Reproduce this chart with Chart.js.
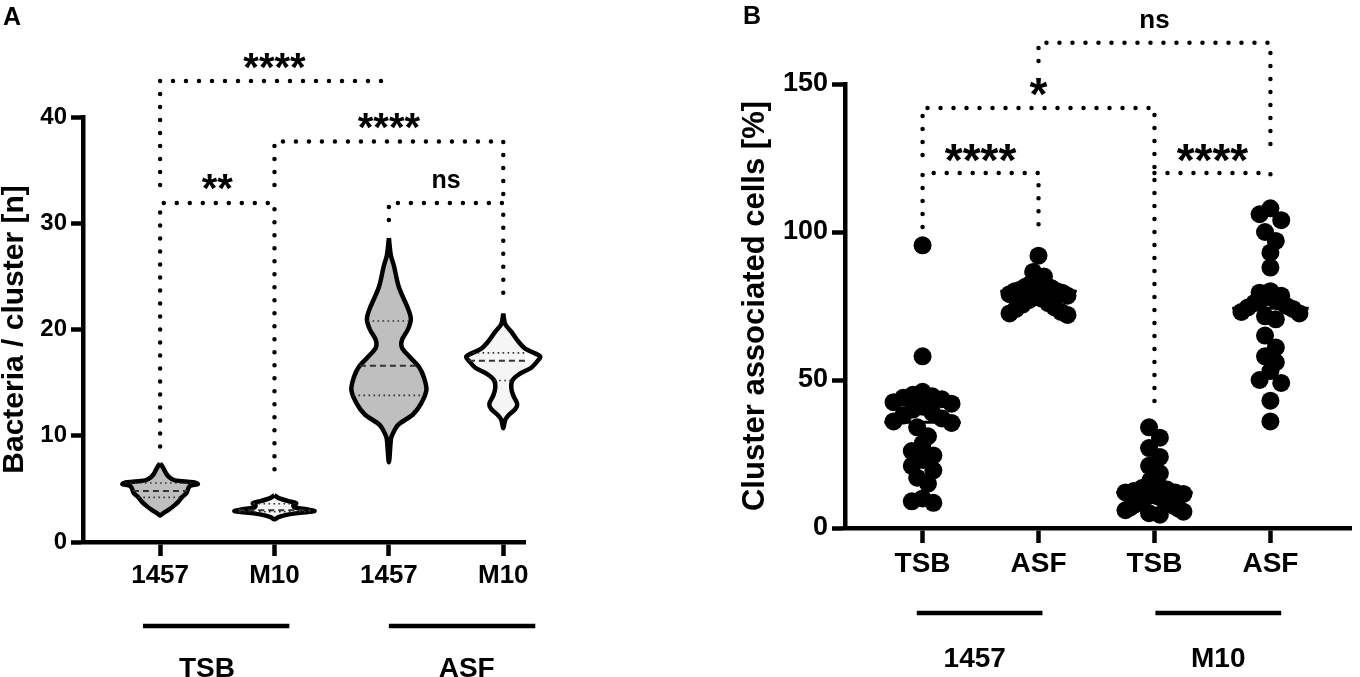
<!DOCTYPE html>
<html>
<head>
<meta charset="utf-8">
<script src="https://cdn.jsdelivr.net/npm/chart.js@4.4.1/dist/chart.umd.min.js"></script>
<style>
  html, body { margin: 0; padding: 0; background: #fff; }
  #wrap { position: relative; width: 1360px; height: 677px; }
  .panel { position: absolute; top: 0; width: 680px; height: 677px; }
</style>
</head>
<body>
<div id="wrap">
  <div class="panel" style="left:0"><canvas id="panelA"></canvas></div>
  <div class="panel" style="left:680px"><canvas id="panelB"></canvas></div>
</div>
<script>
const FONT = '"Liberation Sans", Arial, sans-serif'

// ---------- panel A : bacteria per cluster (violins) ----------
const strainsA = ['1457', 'M10', '1457', 'M10']
const mediaA = ['TSB', 'ASF']
const yTicksA = [0, 10, 20, 30, 40]

// violin outlines: levels (bacteria / cluster) and half width of the density
const v1Levels = [7.4, 7.0, 6.5, 6.1, 5.8, 5.62, 5.45, 5.28, 5.0, 4.6, 4.2, 3.8, 3.4, 3.0, 2.7, 2.5]
const v1Widths = [0, .026, .05, .08, .13, .29, .33, .26, .245, .23, .19, .16, .12, .07, .026, 0]
const v2Levels = [4.4, 4.1, 3.85, 3.65, 3.45, 3.25, 3.05, 2.9, 2.75, 2.55, 2.35, 2.15]
const v2Widths = [0, .044, .12, .19, .165, .175, .30, .35, .23, .105, .035, 0]
const v3Levels = [28.6, 27.0, 26.0, 24.0, 22.0, 21.0, 20.0, 19.0, 18.3, 17.5, 16.5, 15.5, 14.3, 13.0, 12.0, 11.0, 10.0, 9.6, 7.5]
const v3Widths = [0, .017, .044, .087, .166, .192, .166, .114, .114, .175, .262, .306, .328, .28, .21, .079, .026, .017, 0]
const v4Levels = [21.5, 20.5, 19.8, 19.0, 18.2, 17.6, 17.4, 17.0, 16.4, 15.8, 15.2, 14.5, 13.8, 13.0, 12.5, 12.0, 11.5, 10.7]
const v4Widths = [0, .017, .07, .122, .192, .306, .324, .297, .245, .14, .079, .07, .087, .122, .105, .052, .017, 0]
// quartiles [Q1, median, Q3]
const quartA = [[4.2, 4.8, 5.55], [2.85, 3.0, 3.6], [13.8, 16.6, 20.8], [15.2, 17.05, 17.8]]

const bracketsA = [
  {from: 0, to: 2, level: 43.4, leftEnd: 33.6, rightEnd: 43.0, label: '****', labelY: 45.3},
  {from: 1, to: 3, level: 37.7, leftEnd: 33.6, rightEnd: 31.9, label: '****', labelY: 39.6},
  {from: 0, to: 1, level: 31.9, leftEnd: 9.0, rightEnd: 6.6, label: '**', labelY: 33.9},
  {from: 2, to: 3, level: 31.9, leftEnd: 30.3, rightEnd: 23.4, label: 'ns', labelY: 34.0}
]
const groupSpanA = [{from: -0.15, to: 1.13, at: 0.41}, {from: 2.0, to: 3.28, at: 2.68}]

// ---------- panel B : cluster associated cells (dots) ----------
const mediaB = ['TSB', 'ASF', 'TSB', 'ASF']
const strainsB = ['1457', 'M10']
const yTicksB = [0, 50, 100, 150]

const tsb1457 = [95.5, 58, 46, 45, 44.5, 44, 43.5, 42.5, 42, 41, 40, 39, 38, 37, 36, 35.5, 34, 31, 28.5, 26, 24.5, 23, 21, 19.5, 17, 15, 10, 9, 8.5]
const asf1457 = [92, 86.5, 85, 84, 83, 82.5, 82, 81.5, 81, 80.5, 80, 80, 79.5, 79, 78.5, 78, 77.5, 77, 76, 75.5, 74.5, 74, 73, 72.5, 72]
const tsbM10 = [34, 30.5, 27, 24, 21, 18.5, 16, 14.5, 13.5, 13, 12.5, 12, 12, 11.5, 11, 11, 10.5, 10, 9.5, 9, 8.5, 8, 7.5, 7, 6.5, 6, 5.5, 5, 4.5]
const asfM10 = [108, 106, 104, 100, 97, 93, 88, 80, 79.5, 78.5, 78, 77.5, 77, 76.5, 76, 75, 74.5, 74, 73, 72.5, 71.5, 70.5, 65, 61, 58, 56, 53, 50, 49, 43, 36]
const mediansB = [35.7, 80, 12, 74.2]

const bracketsB = [
  {from: 1, to: 3, level: 163.9, leftEnd: 157.8, rightEnd: 128.4, label: 'ns', labelY: 171.3},
  {from: 0, to: 2, level: 141.9, leftEnd: 126, rightEnd: 40.5, label: '*', labelY: 149},
  {from: 0, to: 1, level: 119.9, leftEnd: 101.7, rightEnd: 98.3, label: '****', labelY: 126.7},
  {from: 2, to: 3, level: 119.9, leftEnd: 119.9, rightEnd: 117.6, label: '****', labelY: 126.7}
]
const groupSpanB = [{from: -0.05, to: 1.034, at: 0.45}, {from: 2.008, to: 3.093, at: 2.55}]

// ---------- helpers ----------
function violinOutline(center, levels, widths) {
  const right = levels.map((y, k) => ({x: center + widths[k], y: y}))
  const left = levels.slice(0, -1).map((y, k) => ({x: center - widths[k], y: y})).reverse()
  return right.concat(left)
}

function widthAt(levels, widths, v) {
  for (let k = 0; k < levels.length - 1; k++) {
    if (v <= levels[k] && v >= levels[k + 1]) {
      const t = (levels[k] - v) / (levels[k] - levels[k + 1])
      return widths[k] + t * (widths[k + 1] - widths[k])
    }
  }
  return 0
}

function bracketData(b) {
  return [{x: b.from, y: b.leftEnd}, {x: b.from, y: b.level}, {x: b.to, y: b.level}, {x: b.to, y: b.rightEnd}]
}

function bracketDataset(b) {
  return {
    data: bracketData(b), borderColor: '#000', borderWidth: 4.5, borderDash: [0, 13],
    borderCapStyle: 'round', pointRadius: 0, tension: 0, fill: false, clip: false, order: 0
  }
}

function centeredText(ctx, text, cx, cy, size) {
  ctx.font = 'bold ' + size + 'px ' + FONT
  ctx.textAlign = 'center'
  ctx.textBaseline = 'alphabetic'
  const m = ctx.measureText(text)
  ctx.fillText(text, cx, cy + (m.actualBoundingBoxAscent - m.actualBoundingBoxDescent) / 2)
}

function groupDecor(chart, spans, labels, lineOff, labelOff, size) {
  const {ctx, chartArea, scales: {x}} = chart
  ctx.save()
  ctx.strokeStyle = '#000'
  ctx.fillStyle = '#000'
  ctx.lineWidth = 4.5
  spans.forEach((s, i) => {
    const yl = chartArea.bottom + lineOff
    ctx.beginPath()
    ctx.moveTo(x.getPixelForValue(s.from), yl)
    ctx.lineTo(x.getPixelForValue(s.to), yl)
    ctx.stroke()
    centeredText(ctx, labels[i], x.getPixelForValue(s.at), chartArea.bottom + labelOff, size)
  })
  ctx.restore()
}

function bracketLabels(chart, brackets, starSize, nsSize) {
  const {ctx, scales: {x, y}} = chart
  ctx.save()
  ctx.fillStyle = '#000'
  brackets.forEach(b => {
    centeredText(ctx, b.label, x.getPixelForValue((b.from + b.to) / 2), y.getPixelForValue(b.labelY),
      b.label === 'ns' ? nsSize : starSize)
  })
  ctx.restore()
}

// GraphPad-like scatter: dots binned into rows, each row spread sideways within a fixed width
const swarmPlugin = {
  id: 'swarm',
  afterDatasetsUpdate(chart) {
    const xs = chart.scales.x
    chart.data.datasets.forEach((ds, di) => {
      if (!ds.swarm) return
      const pts = chart.getDatasetMeta(di).data
      const dia = ds.pointRadius * 2
      const maxHalf = Math.abs(xs.getPixelForValue(ds.swarm) - xs.getPixelForValue(0))
      const bins = {}
      pts.forEach(p => {
        const b = Math.round(p.y / dia)
        if (!bins[b]) bins[b] = []
        bins[b].push(p)
      })
      Object.values(bins).forEach(list => {
        const n = list.length
        if (n < 2) return
        const step = Math.min(dia * 0.6, 2 * maxHalf / (n - 1))
        const slots = list.map((_, k) => (k - (n - 1) / 2) * step)
          .sort((a, b) => Math.abs(a) - Math.abs(b) || a - b)
        list.forEach((p, k) => { p.x += slots[k] })
      })
    })
  }
}

Chart.defaults.font.family = FONT
Chart.defaults.color = '#000'

function axisCommon(tickLen) {
  return {
    border: {display: true, width: 4.5, color: '#000'},
    grid: {display: true, drawOnChartArea: false, drawTicks: true, tickLength: tickLen, tickWidth: 4.5, tickColor: '#000'}
  }
}

// ---------- build panel A ----------
const violinsA = [[v1Levels, v1Widths], [v2Levels, v2Widths], [v3Levels, v3Widths], [v4Levels, v4Widths]]
const fillsA = ['#bfbfbf', '#f4f5f4', '#bfbfbf', '#f4f5f4']
const datasetsA = []

violinsA.forEach((v, i) => {
  datasetsA.push({
    data: violinOutline(i, v[0], v[1]), borderColor: '#000', borderWidth: 4.5, backgroundColor: fillsA[i],
    fill: 'shape', tension: 0.3, pointRadius: 0, borderJoinStyle: 'round', clip: false, order: 3
  })
  quartA[i].forEach((q, k) => {
    const hw = widthAt(v[0], v[1], q)
    datasetsA.push({
      data: [{x: i - hw, y: q}, {x: i + hw, y: q}], borderColor: '#333',
      borderWidth: k === 1 ? 2 : 1.6, borderDash: k === 1 ? [6, 4] : [1.6, 3.4],
      pointRadius: 0, fill: false, order: 2
    })
  })
})
bracketsA.forEach(b => datasetsA.push(bracketDataset(b)))

new Chart(document.getElementById('panelA'), {
  type: 'line',
  data: {datasets: datasetsA},
  options: {
    responsive: true, maintainAspectRatio: false, animation: false, events: [],
    layout: {padding: {left: 0, right: 155, top: 117, bottom: 0}},
    plugins: {legend: {display: false}, tooltip: {enabled: false}},
    scales: {
      x: Object.assign(axisCommon(14), {
        type: 'linear', min: -0.674, max: 3.19,
        afterBuildTicks: s => { s.ticks = strainsA.map((_, i) => ({value: i})) },
        afterFit: s => { s.height = 135 },
        ticks: {callback: (v, i) => strainsA[i], font: {size: 26, weight: 'bold'}, padding: 4, maxRotation: 0, autoSkip: false}
      }),
      y: Object.assign(axisCommon(12), {
        min: 0, max: 40,
        afterBuildTicks: s => { s.ticks = yTicksA.map(v => ({value: v})) },
        afterFit: s => { s.width = 83 },
        ticks: {font: {size: 24, weight: 'bold'}, padding: 4},
        title: {display: true, text: 'Bacteria / cluster [n]', font: {size: 30, weight: 'bold', lineHeight: 1}, padding: {top: 0, bottom: 0}}
      })
    }
  },
  plugins: [{
    id: 'panelAText',
    afterDraw(chart) {
      const ctx = chart.ctx
      ctx.save()
      ctx.fillStyle = '#000'
      ctx.font = 'bold 25px ' + FONT
      ctx.textAlign = 'left'
      ctx.textBaseline = 'alphabetic'
      ctx.fillText('A', 3, 25)
      ctx.restore()
      bracketLabels(chart, bracketsA, 40, 25)
      groupDecor(chart, groupSpanA, mediaA, 84, 125, 28)
    }
  }]
})

// ---------- build panel B ----------
const dotsB = [tsb1457, asf1457, tsbM10, asfM10]
const datasetsB = []
dotsB.forEach((vals, i) => {
  datasetsB.push({
    data: vals.map(v => ({x: i, y: v})), showLine: false, swarm: 0.25,
    pointRadius: 9, pointBorderWidth: 0, pointBackgroundColor: '#000', borderColor: '#000', clip: false, order: 2
  })
  datasetsB.push({
    data: [{x: i - 0.33, y: mediansB[i]}, {x: i + 0.33, y: mediansB[i]}],
    borderColor: '#000', borderWidth: 3, pointRadius: 0, fill: false, order: 1
  })
})
bracketsB.forEach(b => datasetsB.push(bracketDataset(b)))

new Chart(document.getElementById('panelB'), {
  type: 'line',
  data: {datasets: datasetsB},
  options: {
    responsive: true, maintainAspectRatio: false, animation: false, events: [],
    layout: {padding: {left: 0, right: 0, top: 84, bottom: 0}},
    plugins: {legend: {display: false}, tooltip: {enabled: false}},
    scales: {
      x: Object.assign(axisCommon(15), {
        type: 'linear', min: -0.669, max: 3.695,
        afterBuildTicks: s => { s.ticks = mediaB.map((_, i) => ({value: i})) },
        afterFit: s => { s.height = 149 },
        ticks: {callback: (v, i) => mediaB[i], font: {size: 28, weight: 'bold'}, padding: 4, maxRotation: 0, autoSkip: false}
      }),
      y: Object.assign(axisCommon(13), {
        min: 0, max: 150,
        afterBuildTicks: s => { s.ticks = yTicksB.map(v => ({value: v})) },
        afterFit: s => { s.width = 165 },
        ticks: {font: {size: 27, weight: 'bold'}, padding: 4},
        title: {display: true, text: 'Cluster associated cells [%]', font: {size: 31, weight: 'bold', lineHeight: 1}, padding: {top: 59.5, bottom: 0}}
      })
    }
  },
  plugins: [swarmPlugin, {
    id: 'panelBText',
    afterDraw(chart) {
      const ctx = chart.ctx
      ctx.save()
      ctx.fillStyle = '#000'
      ctx.font = 'bold 25px ' + FONT
      ctx.textAlign = 'left'
      ctx.textBaseline = 'alphabetic'
      ctx.fillText('B', 63, 24)
      ctx.restore()
      bracketLabels(chart, bracketsB, 46, 26)
      groupDecor(chart, groupSpanB, strainsB, 85, 129, 28)
    }
  }]
})
</script>
</body>
</html>
